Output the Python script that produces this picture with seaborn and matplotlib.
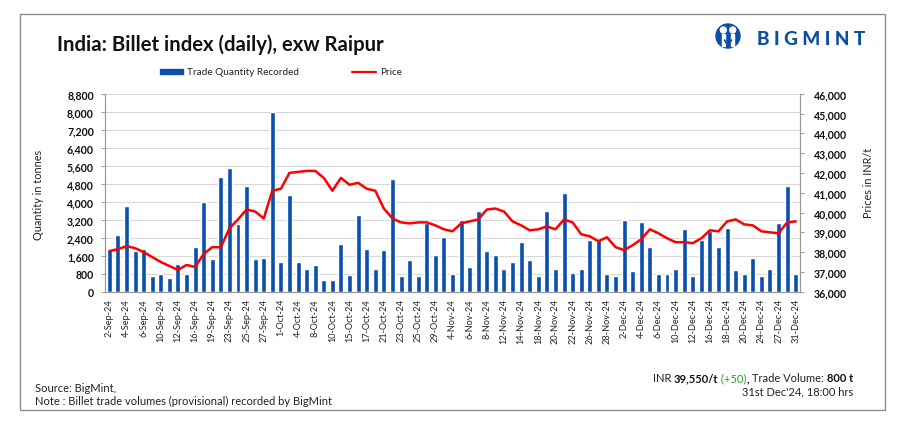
import numpy as np
import pandas as pd
import matplotlib
matplotlib.use('Agg')
import matplotlib.pyplot as plt
import matplotlib.patches as mpatches
import matplotlib.lines as mlines
import seaborn as sns
from matplotlib.ticker import FuncFormatter, MultipleLocator

# Trade days shown in the chart
dates = ['2-Sep-24', '3-Sep-24', '4-Sep-24', '5-Sep-24', '6-Sep-24', '9-Sep-24', '10-Sep-24',
         '11-Sep-24', '12-Sep-24', '13-Sep-24', '16-Sep-24', '17-Sep-24', '19-Sep-24', '20-Sep-24',
         '23-Sep-24', '24-Sep-24', '25-Sep-24', '26-Sep-24', '27-Sep-24', '30-Sep-24', '1-Oct-24',
         '3-Oct-24', '4-Oct-24', '7-Oct-24', '8-Oct-24', '9-Oct-24', '10-Oct-24', '14-Oct-24',
         '15-Oct-24', '16-Oct-24', '17-Oct-24', '18-Oct-24', '21-Oct-24', '22-Oct-24', '23-Oct-24',
         '24-Oct-24', '25-Oct-24', '28-Oct-24', '29-Oct-24', '30-Oct-24', '4-Nov-24', '5-Nov-24',
         '6-Nov-24', '7-Nov-24', '8-Nov-24', '11-Nov-24', '12-Nov-24', '13-Nov-24', '14-Nov-24',
         '15-Nov-24', '18-Nov-24', '19-Nov-24', '20-Nov-24', '21-Nov-24', '22-Nov-24', '25-Nov-24',
         '26-Nov-24', '27-Nov-24', '28-Nov-24', '29-Nov-24', '2-Dec-24', '3-Dec-24', '4-Dec-24',
         '5-Dec-24', '6-Dec-24', '9-Dec-24', '10-Dec-24', '11-Dec-24', '12-Dec-24', '13-Dec-24',
         '16-Dec-24', '17-Dec-24', '18-Dec-24', '19-Dec-24', '20-Dec-24', '23-Dec-24', '24-Dec-24',
         '26-Dec-24', '27-Dec-24', '30-Dec-24', '31-Dec-24']

# Trade quantity recorded (tonnes)
quantity = [1850, 2500, 3800, 1800, 1900, 700, 800, 600, 1250, 800,
            2000, 4000, 1450, 5100, 5500, 3000, 4700, 1450, 1500, 8000,
            1300, 4300, 1300, 1000, 1200, 500, 500, 2100, 750, 3400,
            1900, 1000, 1850, 5000, 700, 1400, 700, 3050, 1650, 2450,
            800, 3200, 1100, 3600, 1800, 1650, 1000, 1300, 2200, 1400,
            700, 3600, 1000, 4400, 850, 1000, 2300, 2300, 800, 700,
            3200, 900, 3100, 2000, 800, 800, 1000, 2800, 700, 2300,
            2700, 2000, 2850, 950, 800, 1500, 700, 1000, 3050, 4700,
            800]

# Price (INR/t)
price = [38050, 38150, 38300, 38200, 38000, 37750, 37500, 37300, 37100, 37350,
         37250, 37900, 38250, 38250, 39200, 39650, 40150, 40050, 39700, 41100,
         41200, 42000, 42050, 42100, 42100, 41750, 41100, 41750, 41400, 41500,
         41200, 41100, 40200, 39700, 39500, 39450, 39500, 39500, 39350, 39150,
         39050, 39450, 39550, 39650, 40150, 40200, 40050, 39550, 39350, 39100,
         39150, 39300, 39150, 39650, 39500, 38900, 38800, 38550, 38750, 38250,
         38100, 38350, 38650, 39150, 38950, 38700, 38500, 38500, 38450, 38700,
         39100, 39050, 39550, 39650, 39400, 39350, 39050, 39000, 38950, 39500,
         39550]

df = pd.DataFrame({'Date': dates, 'Quantity': quantity, 'Price': price})
df['pos'] = np.arange(len(df))

BAR_BLUE = '#0a4fad'
LOGO_BLUE = '#0b4ea2'
W, H = 906, 439

sns.set_theme(style='white')
plt.rcParams['font.family'] = ['Lato', 'DejaVu Sans']

fig = plt.figure(figsize=(W / 100, H / 100), dpi=100)
ax = fig.add_axes([105 / W, 1 - 292.7 / H, (800 - 105) / W, (292.7 - 94.7) / H])

# Bars: trade quantity
sns.barplot(data=df, x='Date', y='Quantity', color=BAR_BLUE, width=0.58,
            saturation=1, ax=ax, zorder=3)
ax.set_ylim(0, 8800)
ax.set_xlim(-0.5, len(df) - 0.5)
ax.yaxis.set_major_locator(MultipleLocator(800))
ax.yaxis.set_major_formatter(FuncFormatter(lambda v, p: f'{v:,.0f}'))
ax.grid(axis='y', color='#d9d9d9', linewidth=0.8, zorder=0)
ax.set_axisbelow(True)
ax.set_xlabel('')
ax.set_ylabel('')
ax.set_xticks(df['pos'][::2])
ax.set_xticklabels(df['Date'][::2], rotation=90, fontsize=6.6, color='#222222')
ax.tick_params(axis='x', length=3, width=0.6, color='#888888', pad=1.5)
ax.tick_params(axis='y', length=3, width=0.6, color='#888888', pad=5,
               labelsize=7.6, labelcolor='#111111', left=True)
for lab in ax.get_yticklabels():
    lab.set_fontweight('bold')
for side in ['left', 'bottom', 'right']:
    ax.spines[side].set_color('#999999')
    ax.spines[side].set_linewidth(0.8)
ax.spines['top'].set_visible(False)

# Line: price on secondary axis
ax2 = ax.twinx()
sns.lineplot(data=df, x='pos', y='Price', color='#ff0000', linewidth=1.8, ax=ax2, zorder=4)
ax2.set_ylim(36000, 46000)
ax2.set_xlim(-0.5, len(df) - 0.5)
ax2.yaxis.set_major_locator(MultipleLocator(1000))
ax2.yaxis.set_major_formatter(FuncFormatter(lambda v, p: f'{v:,.0f}'))
ax2.set_xlabel('')
ax2.set_ylabel('')
ax2.tick_params(axis='y', length=3, width=0.6, color='#888888', pad=7,
                labelsize=7.6, labelcolor='#111111', right=True)
for lab in ax2.get_yticklabels():
    lab.set_fontweight('bold')
ax2.grid(False)
for side in ['left', 'bottom', 'right']:
    ax2.spines[side].set_color('#999999')
    ax2.spines[side].set_linewidth(0.8)
ax2.spines['top'].set_visible(False)

def fx(px):
    return px / W

def fy(py):
    return 1 - py / H

# Axis titles
fig.text(fx(38), fy(195), 'Quantity in tonnes', rotation=90, ha='center', va='center',
         fontsize=7.8, color='#222222')
fig.text(fx(868), fy(183), 'Prices in INR/t', rotation=90, ha='center', va='center',
         fontsize=7.8, color='#222222')

# Outer frame
fig.patches.append(mpatches.Rectangle((fx(19.5), fy(411)), fx(885) - fx(19.5), fy(15) - fy(411),
                                      transform=fig.transFigure, fill=False,
                                      edgecolor='#8c8c8c', linewidth=1.0))

# Title
fig.text(fx(57), fy(51), 'India: Billet index (daily), exw Raipur', ha='left', va='baseline',
         fontsize=14.6, fontweight='bold', color='#111111')

# Legend
fig.patches.append(mpatches.Rectangle((fx(160), fy(75)), fx(23), fy(69.5) - fy(75),
                                      transform=fig.transFigure, color=BAR_BLUE))
fig.text(fx(187), fy(72.5), 'Trade Quantity Recorded', ha='left', va='center', fontsize=7.2,
         color='#222222')
fig.lines.append(mlines.Line2D([fx(352), fx(376)], [fy(72.5), fy(72.5)], transform=fig.transFigure,
                               color='#ff0000', linewidth=1.6))
fig.text(fx(380), fy(72.5), 'Price', ha='left', va='center', fontsize=7.2, color='#222222')

# Logo: round icon with two figures, then the word mark
fig.patches.append(mpatches.Ellipse((fx(728), fy(37)), 24 / W, 24 / H,
                                    transform=fig.transFigure, color=LOGO_BLUE))
for hx in (723.3, 732.7):
    fig.patches.append(mpatches.Ellipse((fx(hx), fy(31)), 6 / W, 6 / H,
                                        transform=fig.transFigure, color='white'))
    fig.patches.append(mpatches.Rectangle((fx(hx - 1.7), fy(47)), 3.4 / W, 12 / H,
                                          transform=fig.transFigure, color='white'))
fig.lines.append(mlines.Line2D([fx(724.5), fx(728), fx(731.5)], [fy(41), fy(47), fy(41)],
                               transform=fig.transFigure, color=LOGO_BLUE, linewidth=1.2))
fig.text(fx(757), fy(45), 'B I G M I N T', ha='left', va='baseline', fontsize=13.6,
         fontweight='black', color=LOGO_BLUE)

# Footer notes
fig.text(fx(35), fy(389), 'Source: BigMint,', ha='left', va='center', fontsize=8, color='#222222')
fig.text(fx(35), fy(401), 'Note : Billet trade volumes (provisional) recorded by BigMint',
         ha='left', va='center', fontsize=8, color='#222222')

renderer = fig.canvas.get_renderer()
pieces = [('INR ', 'normal', '#222222'), ('39,550/t', 'bold', '#111111'),
          (' (+50)', 'normal', '#2ca02c'), (', ', 'bold', '#111111'),
          ('Trade Volume: ', 'normal', '#222222'), ('800 t', 'bold', '#111111')]
x_right = fx(853)
for txt, wt, col in reversed(pieces):
    t = fig.text(x_right, fy(379), txt, ha='right', va='center', fontsize=8,
                 fontweight=wt, color=col)
    bb = t.get_window_extent(renderer=renderer)
    x_right = bb.x0 / fig.bbox.width
fig.text(fx(853), fy(392), "31st Dec'24, 18:00 hrs", ha='right', va='center', fontsize=8,
         color='#222222')

fig.savefig('out.png', dpi=100)
